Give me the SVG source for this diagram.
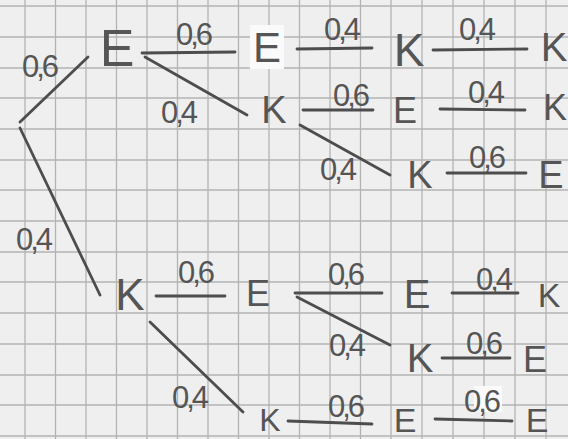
<svg xmlns="http://www.w3.org/2000/svg" width="568" height="439" viewBox="0 0 568 439">
<style>
.grid line{stroke:#b3b3b3;stroke-width:1.3}
.edge{stroke:#4d4d4d;stroke-width:2.8;stroke-linecap:round;fill:none}
.n{font-family:"Liberation Sans",Arial,sans-serif;fill:#555;text-anchor:middle}
.lbl{font-family:"Liberation Sans",Arial,sans-serif;fill:#555;text-anchor:middle;font-size:31px;letter-spacing:-3px}
.patch{fill:#fafafa}
</style>
<rect width="568" height="439" fill="#efefef"/>
<g class="grid">
<line x1="25" y1="0" x2="25" y2="439"/><line x1="55.5" y1="0" x2="55.5" y2="439"/><line x1="86" y1="0" x2="86" y2="439"/><line x1="116.5" y1="0" x2="116.5" y2="439"/><line x1="147" y1="0" x2="147" y2="439"/><line x1="177.5" y1="0" x2="177.5" y2="439"/><line x1="208" y1="0" x2="208" y2="439"/><line x1="238.5" y1="0" x2="238.5" y2="439"/><line x1="269" y1="0" x2="269" y2="439"/><line x1="299.5" y1="0" x2="299.5" y2="439"/><line x1="330" y1="0" x2="330" y2="439"/><line x1="360.5" y1="0" x2="360.5" y2="439"/><line x1="391" y1="0" x2="391" y2="439"/><line x1="422" y1="0" x2="422" y2="439"/><line x1="453" y1="0" x2="453" y2="439"/><line x1="484" y1="0" x2="484" y2="439"/><line x1="515" y1="0" x2="515" y2="439"/><line x1="546" y1="0" x2="546" y2="439"/>
<line x1="0" y1="6" x2="568" y2="6"/><line x1="0" y1="37" x2="568" y2="37"/><line x1="0" y1="68" x2="568" y2="68"/><line x1="0" y1="98" x2="568" y2="98"/><line x1="0" y1="129" x2="568" y2="129"/><line x1="0" y1="160" x2="568" y2="160"/><line x1="0" y1="190" x2="568" y2="190"/><line x1="0" y1="221" x2="568" y2="221"/><line x1="0" y1="252" x2="568" y2="252"/><line x1="0" y1="282" x2="568" y2="282"/><line x1="0" y1="313" x2="568" y2="313"/><line x1="0" y1="344" x2="568" y2="344"/><line x1="0" y1="375" x2="568" y2="375"/><line x1="0" y1="405" x2="568" y2="405"/><line x1="0" y1="436" x2="568" y2="436"/>
</g>
<rect class="patch" x="250" y="25" width="34" height="44"/>
<rect class="patch" x="474" y="386" width="28" height="26"/>
<g id="connectors">
<line class="edge" x1="20" y1="122" x2="88" y2="57"/>
<line class="edge" x1="20" y1="128" x2="100" y2="295"/>
<line class="edge" x1="142" y1="53" x2="235" y2="52"/>
<line class="edge" x1="145" y1="57" x2="247" y2="115"/>
<line class="edge" x1="297" y1="49" x2="372" y2="48"/>
<line class="edge" x1="433" y1="50" x2="527" y2="49"/>
<line class="edge" x1="303" y1="110" x2="373" y2="110"/>
<line class="edge" x1="440" y1="109" x2="525" y2="110"/>
<line class="edge" x1="300" y1="125" x2="390" y2="175"/>
<line class="edge" x1="447" y1="173" x2="526" y2="173"/>
<line class="edge" x1="156" y1="296" x2="225" y2="296"/>
<line class="edge" x1="150" y1="322" x2="243" y2="412"/>
<line class="edge" x1="295" y1="293" x2="382" y2="293"/>
<line class="edge" x1="297" y1="297" x2="390" y2="345"/>
<line class="edge" x1="452" y1="293" x2="518" y2="293"/>
<line class="edge" x1="442" y1="358" x2="510" y2="358"/>
<line class="edge" x1="288" y1="421" x2="372" y2="424"/>
<line class="edge" x1="435" y1="419" x2="512" y2="421"/>
<g id="edge-labels">
<text class="lbl" x="39" y="77">0,6</text>
<text class="lbl" x="33" y="250">0,4</text>
<text class="lbl" x="193" y="45">0,6</text>
<text class="lbl" x="178" y="123">0,4</text>
<text class="lbl" x="341" y="40">0,4</text>
<text class="lbl" x="476" y="40">0,4</text>
<text class="lbl" x="350" y="106">0,6</text>
<text class="lbl" x="485" y="103">0,4</text>
<text class="lbl" x="337" y="180">0,4</text>
<text class="lbl" x="486" y="168">0,6</text>
<text class="lbl" x="195" y="283">0,6</text>
<text class="lbl" x="189" y="408">0,4</text>
<text class="lbl" x="345" y="285">0,6</text>
<text class="lbl" x="346" y="356">0,4</text>
<text class="lbl" x="493" y="290">0,4</text>
<text class="lbl" x="483" y="354">0,6</text>
<text class="lbl" x="345" y="417">0,6</text>
<text class="lbl" x="481" y="412">0,6</text>
</g>
</g>
<g id="n1"><text class="n" x="117" y="66" font-size="52">E</text></g>
<g id="n2"><text class="n" x="267" y="62" font-size="42">E</text></g>
<g id="n3"><text class="n" x="409" y="66" font-size="46">K</text></g>
<g id="n4"><text class="n" x="554" y="61" font-size="40">K</text></g>
<g id="n5"><text class="n" x="274" y="123" font-size="38">K</text></g>
<g id="n6"><text class="n" x="405" y="123" font-size="36">E</text></g>
<g id="n7"><text class="n" x="555" y="120" font-size="36">K</text></g>
<g id="n8"><text class="n" x="420" y="188" font-size="38">K</text></g>
<g id="n9"><text class="n" x="551" y="188" font-size="38">E</text></g>
<g id="n10"><text class="n" x="130" y="310" font-size="44">K</text></g>
<g id="n11"><text class="n" x="258" y="306" font-size="36">E</text></g>
<g id="n12"><text class="n" x="417" y="308" font-size="40">E</text></g>
<g id="n13"><text class="n" x="549" y="307" font-size="34">K</text></g>
<g id="n14"><text class="n" x="420" y="372" font-size="40">K</text></g>
<g id="n15"><text class="n" x="535" y="372" font-size="36">E</text></g>
<g id="n16"><text class="n" x="270" y="431" font-size="32">K</text></g>
<g id="n17"><text class="n" x="405" y="432" font-size="34">E</text></g>
<g id="n18"><text class="n" x="537" y="432" font-size="34">E</text></g>
</svg>
